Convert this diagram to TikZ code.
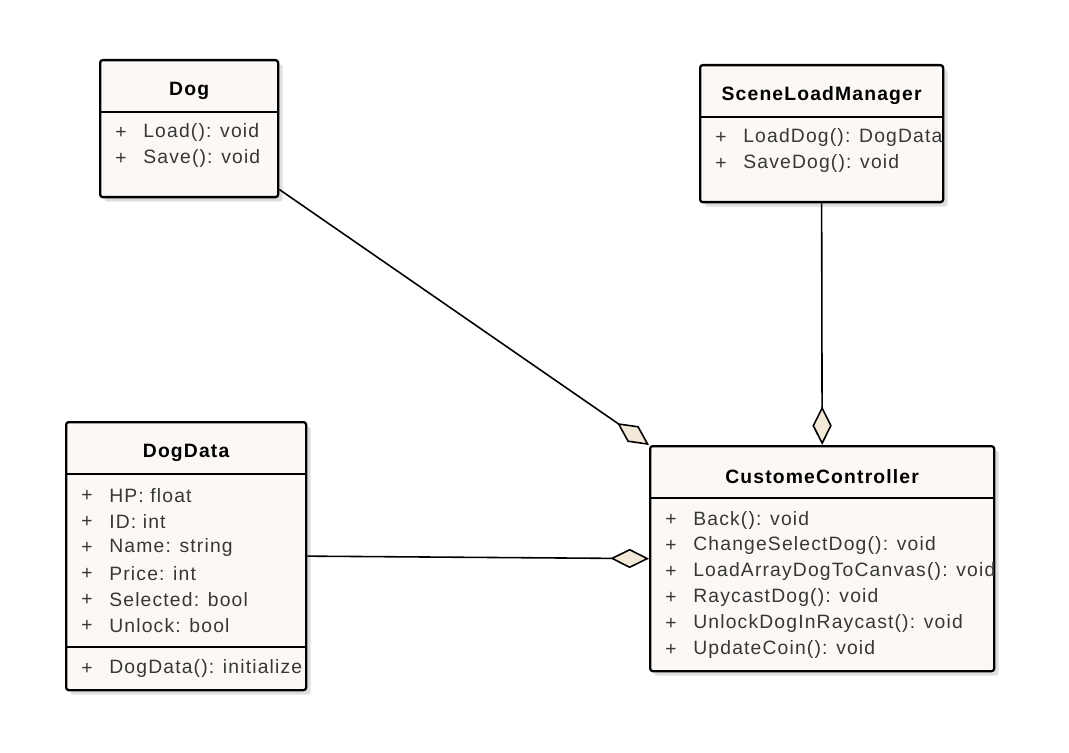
\documentclass[tikz,border=0pt]{standalone}
\usepackage{fontspec}
\setmainfont[LetterSpace=6]{Liberation Sans}
\usetikzlibrary{calc, arrows.meta, shadows}

\begin{document}
\begin{tikzpicture}[x=0.02cm, y=-0.02cm]
	\definecolor{boxfill}{RGB}{251, 248, 245}
	\definecolor{diamondfill}{RGB}{243, 233, 216}
	\definecolor{membertext}{RGB}{55, 55, 55}
	\tikzset{
		classbox/.style={draw=black, line width=1.3pt, fill=boxfill, rounded corners=1.5pt, inner sep=0pt, anchor=north west,
			drop shadow={shadow xshift=2.5pt, shadow yshift=-2.5pt, opacity=.25}},
		classtitle/.style={inner sep=0pt, font=\bfseries\fontsize{11}{13}\selectfont},
		member/.style={anchor=west, inner sep=0pt, text=membertext, font=\fontsize{11}{13}\selectfont},
		aggregation/.style={line width=.9pt, -{Diamond[length=22pt, width=11pt, fill=diamondfill]}}
	}
	\useasboundingbox (0, 0) rectangle (1069, 753);
	
	% \drawclass#name#left#top#width#height#title
	\def\drawclass#1#2#3#4#5#6{
		\node[classbox, minimum width=#4*0.02cm, minimum height=#5*0.02cm] (#1) at (#2, #3) {};
		\node[classtitle] (#1-title) at ($(#1.north)+(0, 32)$) {#6};
		\draw[line width=1pt] ($(#1.north west)+(0, 53)$) -- ($(#1.north east)+(0, 53)$);
	}
	
	% \member#class#row#offset#text
	\def\member#1#2#3#4{
		\node[member] (#1-#2-vis) at ($(#1.north west)+(16, #3)$) {+};
		\node[member] (#1-#2) at ($(#1.north west)+(44, #3)$) {#4};
	}
	
	% classes
	\drawclass{dog}{99}{59}{178}{137}{Dog}
	\drawclass{slm}{699}{64}{243}{137}{SceneLoadManager}
	\drawclass{dd}{65}{421}{240}{268}{DogData}
	\drawclass{cc}{649}{445}{344}{225}{CustomeController}
	\draw[line width=1pt] ($(dd.north west)+(0, 226)$) -- ($(dd.north east)+(0, 226)$);
	
	% members
	\begin{scope}
		\clip (dog.north west) rectangle (dog.south east);
		\member{dog}{1}{74}{Load(): void}
		\member{dog}{2}{100}{Save(): void}
	\end{scope}
	\begin{scope}
		\clip (slm.north west) rectangle (slm.south east);
		\member{slm}{1}{74}{LoadDog(): DogData}
		\member{slm}{2}{100}{SaveDog(): void}
	\end{scope}
	\begin{scope}
		\clip (dd.north west) rectangle (dd.south east);
		\foreach \txt [count=\i] in {HP: float, ID: int, Name: string, Price: int, Selected: bool, Unlock: bool}
			\member{dd}{\i}{49+26*\i}{\txt};
		\member{dd}{op}{248}{DogData(): initialize}
	\end{scope}
	\begin{scope}
		\clip (cc.north west) rectangle (cc.south east);
		\foreach \txt [count=\i] in {Back(): void, ChangeSelectDog(): void, LoadArrayDogToCanvas(): void, RaycastDog(): void, UnlockDogInRaycast(): void, UpdateCoin(): void}
			\member{cc}{\i}{49+26*\i}{\txt};
	\end{scope}
	
	% aggregations
	\draw[aggregation] (dog.-34) -- (cc.north west);
	\draw[aggregation] (slm.south) -- (cc.north);
	\draw[aggregation] (dd.east) -- (cc.west);
\end{tikzpicture}
\end{document}
